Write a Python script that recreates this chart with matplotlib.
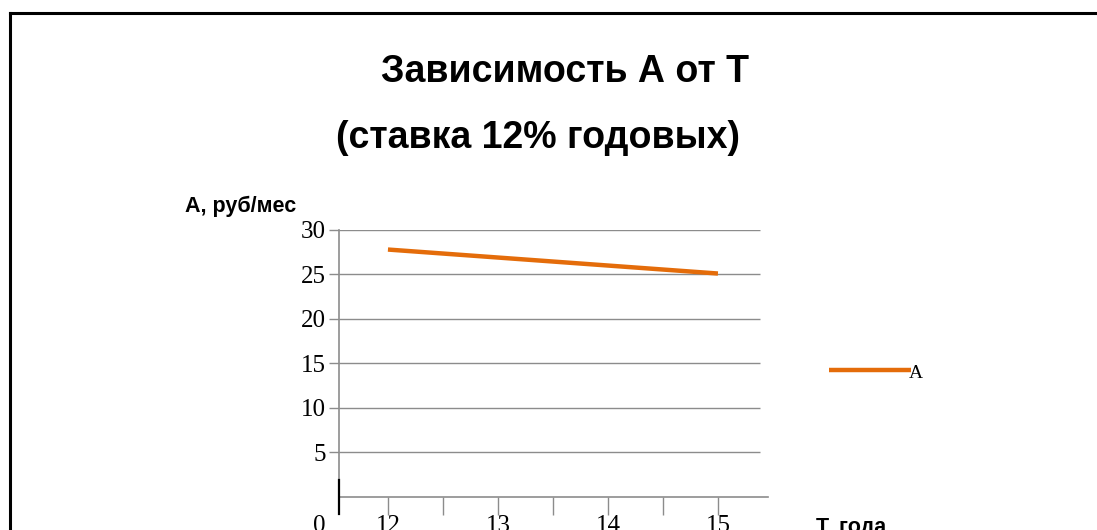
import matplotlib
matplotlib.use("Agg")
import matplotlib.pyplot as plt
from matplotlib.lines import Line2D
from matplotlib.ticker import FixedLocator

# Monthly payment A (rub/month) versus term T (years), 12% annual rate
T_years = [12, 13, 14, 15]
A_payment = [27.8, 26.9, 26.0, 25.1]

y_ticks = [5, 10, 15, 20, 25, 30]
x_major = [12, 13, 14, 15]
x_minor = [12.5, 13.5, 14.5]

title_line1 = "Зависимость А от Т"
title_line2 = "(ставка 12% годовых)"
y_caption = "А, руб/мес"
x_caption = "Т, года"
series_name = "А"

W, H = 1097, 530
fig = plt.figure(figsize=(W / 100, H / 100), dpi=100)
fig.patch.set_facecolor("white")

serif = "Liberation Serif"
sans = "Liberation Sans"
grid_col = "#8c8c8c"
line_col = "#e46c0a"

# outer frame (top and left edges)
fig.add_artist(Line2D([10 / W, 1.0], [1 - 13 / H, 1 - 13 / H], color="black", lw=2.2))
fig.add_artist(Line2D([10 / W, 10 / W], [0.0, 1 - 13 / H], color="black", lw=2.2))

# plot area in pixel terms
left, right = 339, 768
top, bottom = 230, 496.5
ax = fig.add_axes([left / W, (H - bottom) / H, (right - left) / W, (bottom - top) / H])
ax.set_xlim(11.555, 15.455)
ax.set_ylim(0, 30)
ax.set_facecolor("none")

for s in ["top", "right", "bottom"]:
    ax.spines[s].set_visible(False)
ax.spines["left"].set_color(grid_col)
ax.spines["left"].set_linewidth(1.2)

# horizontal grid
ax.hlines(y_ticks, 11.555, 15.38, colors=grid_col, lw=1.0, zorder=1)
ax.axhline(0, color=grid_col, lw=1.2, zorder=1, clip_on=False)

ax.plot(T_years, A_payment, color=line_col, lw=3.2, solid_capstyle="butt", zorder=3)

# y axis ticks
ax.yaxis.set_major_locator(FixedLocator(y_ticks))
ax.tick_params(axis="y", direction="out", length=7.2, width=1, color=grid_col,
               labelsize=18, pad=2)
for lab in ax.get_yticklabels():
    lab.set_family(serif)

# x axis ticks
ax.xaxis.set_major_locator(FixedLocator(x_major))
ax.xaxis.set_minor_locator(FixedLocator(x_minor))
ax.tick_params(axis="x", which="both", direction="out", length=13, width=1,
               color=grid_col, labelsize=18, pad=0)
for lab in ax.get_xticklabels():
    lab.set_family(serif)

# zero label and dark stub at the origin
ax.annotate("0", xy=(11.555, 0), xytext=(-14, -21), textcoords="offset points",
            ha="center", va="center", fontsize=18, family=serif, annotation_clip=False)
ax.plot([11.555, 11.555], [1.9, -2.0], color="black", lw=1.6, clip_on=False, zorder=4)

# titles and axis captions
fig.text(565 / W, 1 - 81.7 / H, title_line1, ha="center", va="baseline",
         fontsize=27, fontweight="bold", family=sans)
fig.text(538 / W, 1 - 147.5 / H, title_line2, ha="center", va="baseline",
         fontsize=27, fontweight="bold", family=sans)
fig.text(185 / W, 1 - 211.7 / H, y_caption, ha="left", va="baseline",
         fontsize=15.5, fontweight="bold", family=sans)
fig.text(816 / W, 1 - 533.5 / H, x_caption, ha="left", va="baseline",
         fontsize=15.5, fontweight="bold", family=sans)

# legend
fig.add_artist(Line2D([829 / W, 911 / W], [1 - 370 / H, 1 - 370 / H], color=line_col, lw=3.2,
                      solid_capstyle="butt"))
fig.text(909 / W, 1 - 378 / H, series_name, ha="left", va="baseline", fontsize=14, family=serif)

fig.savefig("out.png", dpi=100)
